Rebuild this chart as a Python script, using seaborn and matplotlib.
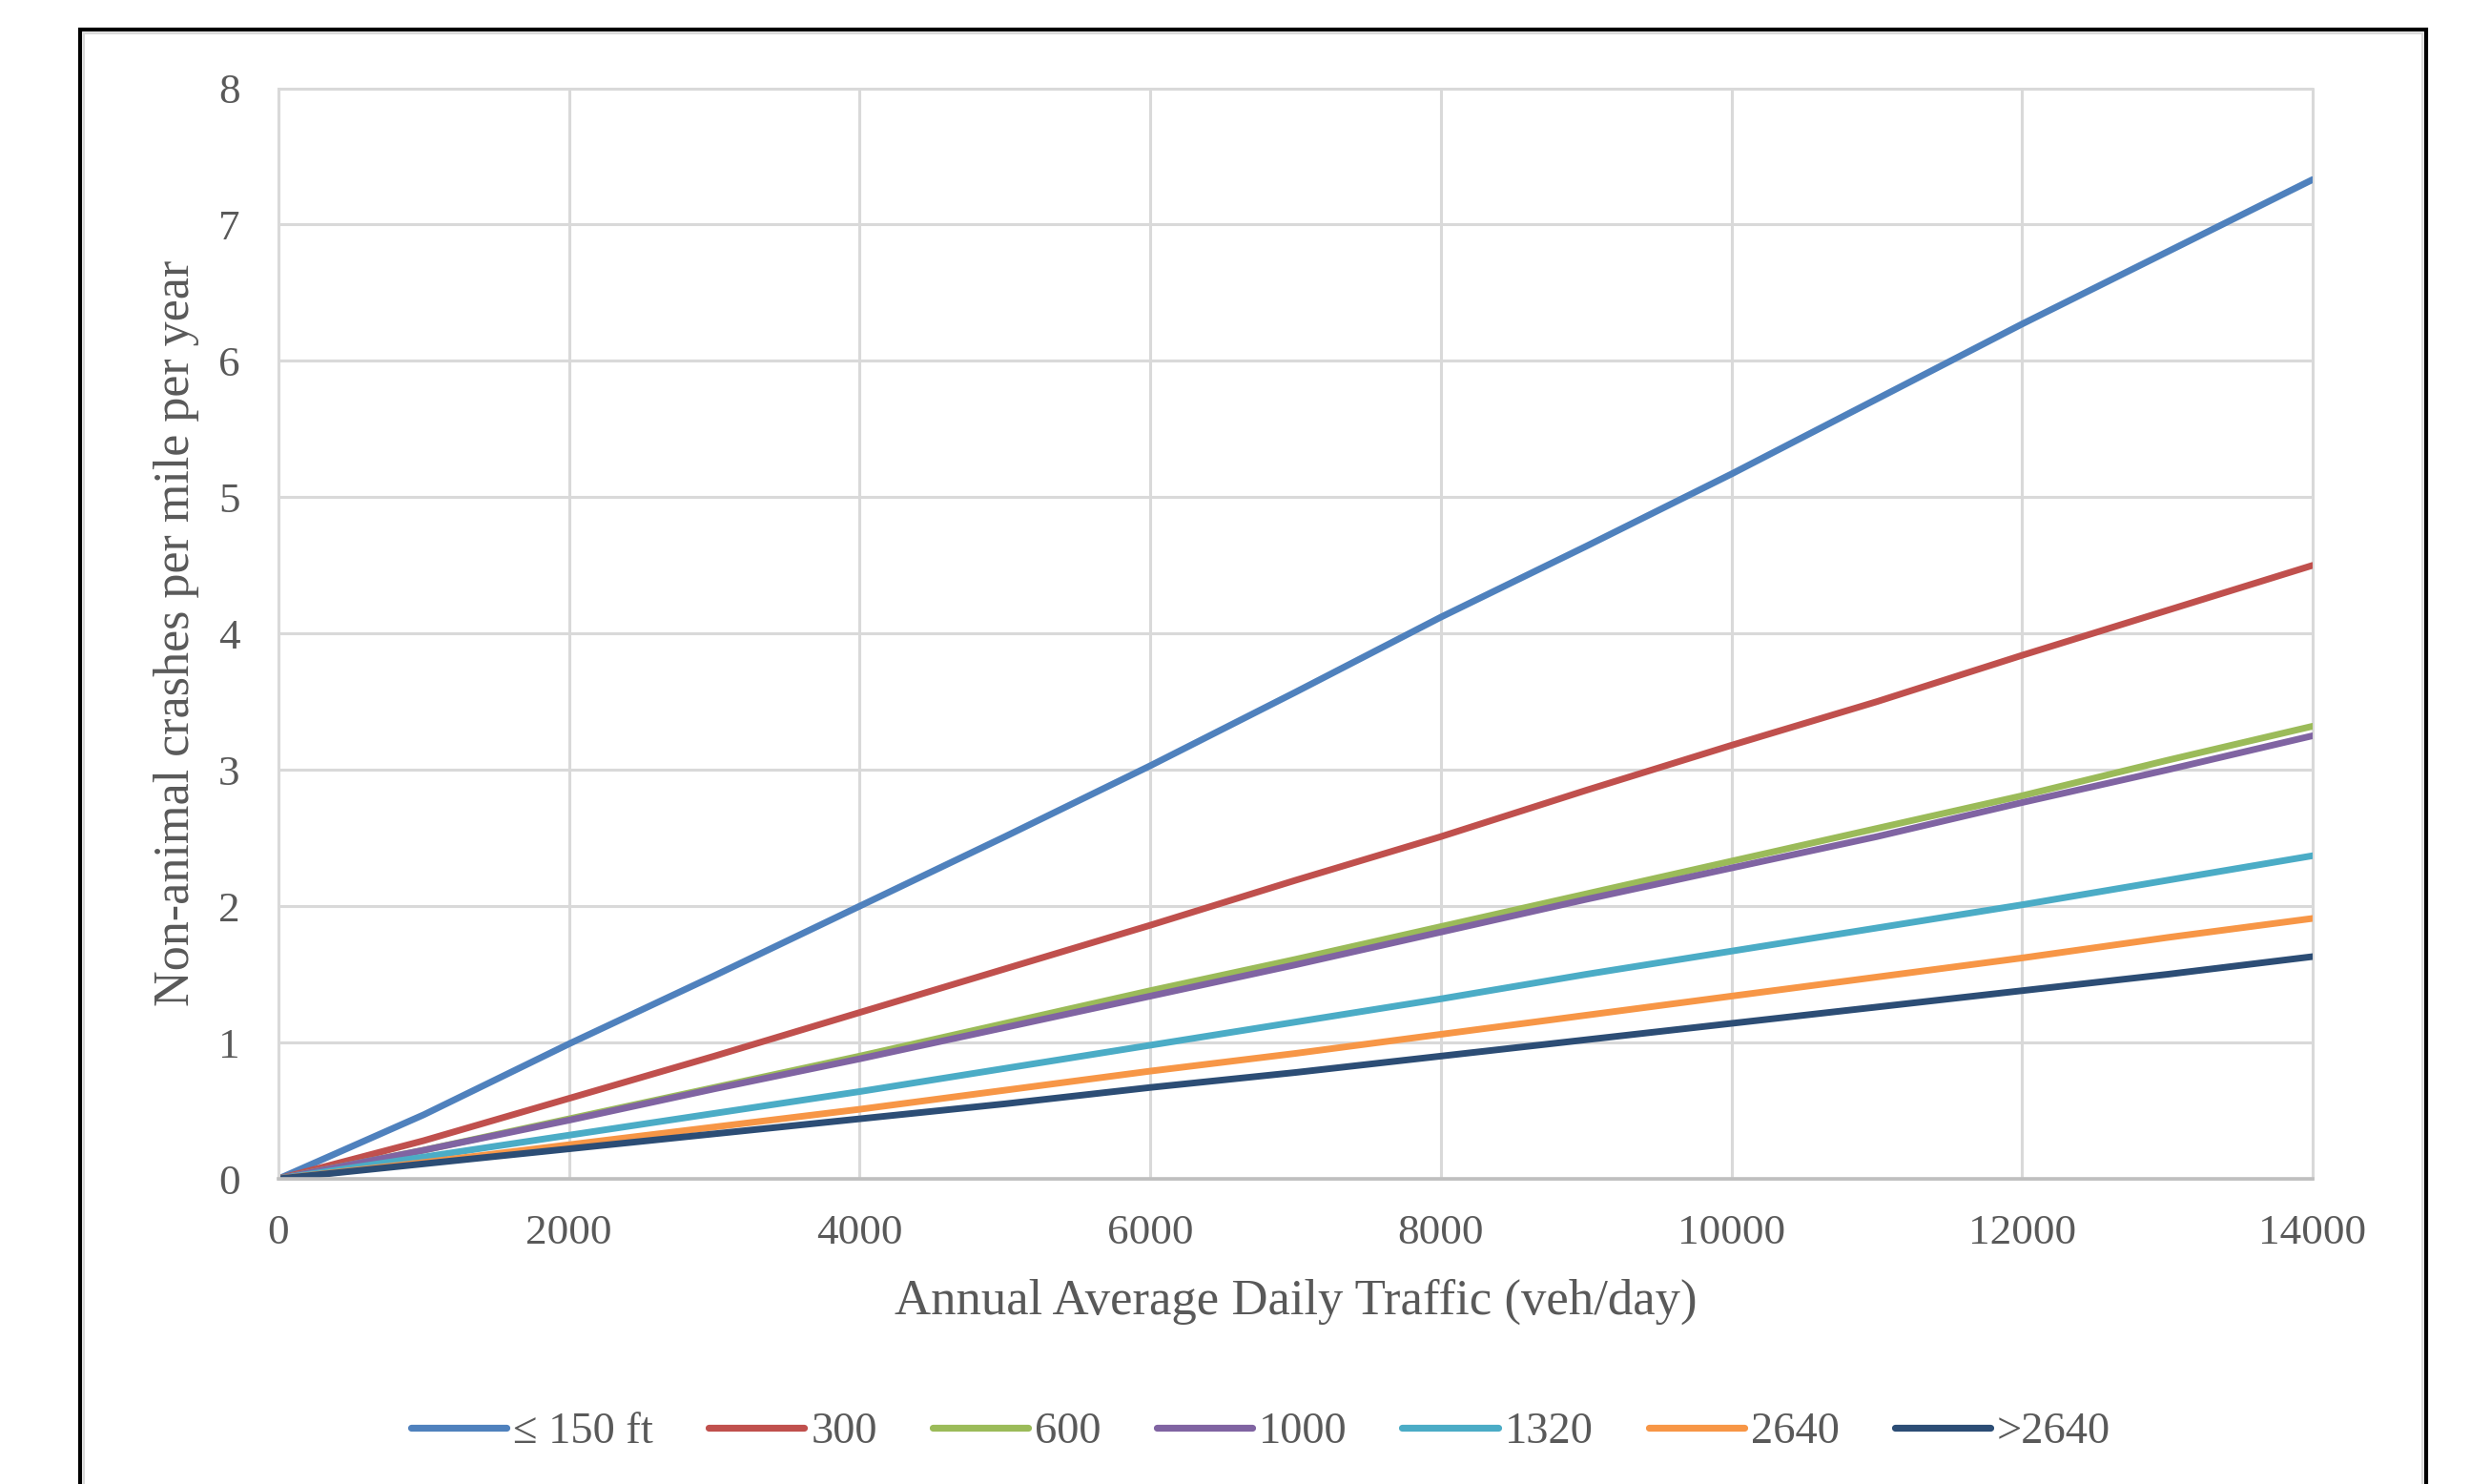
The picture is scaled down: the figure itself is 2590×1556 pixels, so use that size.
import numpy as np
import pandas as pd
import seaborn as sns
import matplotlib
matplotlib.use("Agg")
import matplotlib.pyplot as plt
from matplotlib.patches import Rectangle
from matplotlib.lines import Line2D

# ---- data ----
aadt = [0, 1000, 2000, 3000, 4000, 5000, 6000, 7000, 8000, 9000, 10000, 11000, 12000, 13000, 14000]
series_labels = ["≤ 150 ft", "300", "600", "1000", "1320", "2640", ">2640"]
le150 = [0, 0.47, 0.99, 1.49, 2.00, 2.51, 3.03, 3.57, 4.12, 4.64, 5.17, 5.72, 6.27, 6.80, 7.33]
d300 = [0, 0.28, 0.59, 0.90, 1.22, 1.54, 1.86, 2.19, 2.51, 2.85, 3.18, 3.50, 3.84, 4.17, 4.50]
d600 = [0, 0.21, 0.44, 0.67, 0.90, 1.14, 1.38, 1.61, 1.85, 2.09, 2.33, 2.57, 2.81, 3.07, 3.32]
d1000 = [0, 0.21, 0.43, 0.66, 0.88, 1.11, 1.34, 1.57, 1.81, 2.05, 2.28, 2.51, 2.76, 3.00, 3.25]
d1320 = [0, 0.16, 0.32, 0.48, 0.64, 0.81, 0.98, 1.15, 1.32, 1.50, 1.67, 1.84, 2.01, 2.19, 2.37]
d2640 = [0, 0.12, 0.25, 0.38, 0.51, 0.65, 0.79, 0.92, 1.06, 1.20, 1.34, 1.48, 1.62, 1.77, 1.91]
dgt2640 = [0, 0.11, 0.22, 0.33, 0.44, 0.55, 0.67, 0.78, 0.90, 1.02, 1.14, 1.26, 1.38, 1.50, 1.63]
colors = ["#4F81BD", "#C0504D", "#9BBB59", "#8064A2", "#4BACC6", "#F79646", "#2C4D75"]
x_ticks = [0, 2000, 4000, 6000, 8000, 10000, 12000, 14000]
y_ticks = [0, 1, 2, 3, 4, 5, 6, 7, 8]

all_series = [le150, d300, d600, d1000, d1320, d2640, dgt2640]
rows = []
for lab, vals in zip(series_labels, all_series):
    for xv, yv in zip(aadt, vals):
        rows.append({"AADT": xv, "crashes": yv, "series": lab})
df = pd.DataFrame(rows)

sns.set_style("white")
plt.rcParams["font.family"] = ["Liberation Serif", "DejaVu Serif"]

W, H = 2590, 1556
fig = plt.figure(figsize=(W / 100, H / 100), dpi=100)
L, R, T, B = 292, 2425, 92.5, 1236
ax = fig.add_axes([L / W, 1 - B / H, (R - L) / W, (B - T) / H])

sns.lineplot(data=df, x="AADT", y="crashes", hue="series", hue_order=series_labels,
             palette=colors, linewidth=5.0, ax=ax, legend=False, sort=False)

ax.set_xlim(0, 14000)
ax.set_ylim(0, 8)
ax.set_xticks(x_ticks)
ax.set_yticks(y_ticks)
ax.set_xticklabels([str(v) for v in x_ticks])
ax.set_yticklabels([str(v) for v in y_ticks])
ax.grid(True, color="#D9D9D9", linewidth=2.2)
for lbl in ax.get_xgridlines() + ax.get_ygridlines():
    lbl.set_clip_on(False)
ax.set_axisbelow(True)
for s in ["top", "right"]:
    ax.spines[s].set_visible(False)
ax.spines["left"].set_color("#D9D9D9")
ax.spines["left"].set_linewidth(2.2)
ax.spines["bottom"].set_color("#BFBFBF")
ax.spines["bottom"].set_linewidth(2.6)

ax.tick_params(axis="both", length=0, labelsize=32.5, labelcolor="#595959")
ax.tick_params(axis="y", pad=29)
ax.tick_params(axis="x", pad=27)

ax.set_xlabel("Annual Average Daily Traffic (veh/day)", fontsize=38, color="#595959")
ax.set_ylabel("Non-animal crashes per mile per year", fontsize=37.5, color="#595959")
ax.xaxis.label.set_va("center")
ax.yaxis.label.set_va("center")
ax.xaxis.set_label_coords(0.5, (B - 1365) / (B - T))
ax.yaxis.set_label_coords((185 - L) / (R - L), 0.5)

handles = [Line2D([0], [0], color=c, linewidth=5.2, solid_capstyle="round") for c in colors]
fig.legend(handles, series_labels, loc="center", bbox_to_anchor=(1322 / W, 1 - 1502 / H),
           ncol=7, frameon=False, fontsize=33.5, handlelength=2.15, handletextpad=0.15,
           columnspacing=1.25, labelcolor="#595959")

# chart area frame (bottom edge cut off)
fig.patches.append(Rectangle((88 / W, -0.05), (2540 - 88) / W, 1.05 - 35 / H,
                             transform=fig.transFigure, fill=False, edgecolor="#D9D9D9",
                             linewidth=1.5))
fig.patches.append(Rectangle((84 / W, -0.05), (2544 - 84) / W, 1.05 - 31 / H,
                             transform=fig.transFigure, fill=False, edgecolor="black",
                             linewidth=3.0))

fig.savefig("out.png", dpi=100)
